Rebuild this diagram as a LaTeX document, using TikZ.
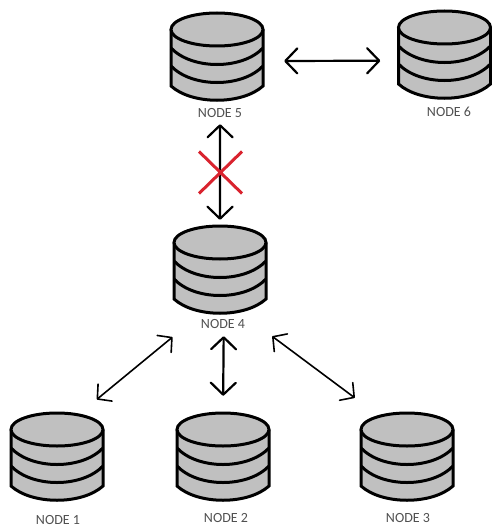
\documentclass[tikz,border=0pt]{standalone}
\usepackage{fontspec}
\setmainfont{Carlito}
\usetikzlibrary{arrows.meta,shapes.misc}
\definecolor{dbgray}{HTML}{C0C0C0}
\definecolor{labelgray}{HTML}{505050}
\definecolor{crossred}{HTML}{D9232E}
\tikzset{
  dbbox/.style={rectangle,minimum width=92pt,minimum height=88pt,inner sep=0pt},
  dblabel/.style={text=labelgray,font=\fontsize{14}{16}\selectfont,inner sep=0pt},
  link/.style={{Straight Barb[length=12pt,width=25pt,round]}-{Straight Barb[length=12pt,width=25pt,round]},line width=2.2pt},
  thinlink/.style={{Straight Barb[length=10pt,width=22pt,round]}-{Straight Barb[length=10pt,width=22pt,round]},line width=1.6pt},
  dbcyl/.pic={
    \draw[line width=3pt,fill=dbgray] (-46,-27.5) -- (-46,29)
      .. controls (-25,48) and (25,48) .. (46,29) -- (46,-27.5);
    \draw[line width=3pt,fill=dbgray] (0,-27.5) ellipse [x radius=46,y radius=16.5];
    \draw[line width=3pt] (-46,-9) .. controls (-25,13) and (25,13) .. (46,-9);
    \draw[line width=3pt] (-46,9) .. controls (-25,31) and (25,31) .. (46,9);
  }
}
\begin{document}
\begin{tikzpicture}[x=1pt,y=-1pt]
  \useasboundingbox (0,0) rectangle (492,527);
  \foreach \name/\x/\y/\lx/\ly/\txt in {n1/57/457/58/519.5/NODE 1,n2/223/457/226/518/NODE 2,
      n3/407/457/408/518/NODE 3,n4/220/270/223/324/NODE 4,n5/217/57/220/113/NODE 5,n6/444.5/55/449/112/NODE 6} {
    \pic at (\x,\y) {dbcyl};
    \node[dbbox] (\name) at (\x,\y) {};
    \node[dblabel] (l\name) at (\lx,\ly) {\txt};
  }
  % arrows stop short of the drums
  \draw[link,shorten <=21pt,shorten >=18pt] (n5.-5) -- (n6.187);
  \draw[link,shorten <=23pt,shorten >=6pt] (n5.274) -- (n4.north);
  \draw[thinlink,shorten <=36pt,shorten >=21pt] (n4.246) -- (n1.62);
  \draw[link,shorten <=22pt,shorten >=17pt] (n4.275) -- (n2.north);
  \draw[thinlink,shorten <=37pt,shorten >=25pt] (n4.297) -- (n3.126);
  \node[cross out,draw=crossred,line width=3pt,minimum width=40pt,minimum height=39pt,inner sep=0pt] (nocross) at (220.5,172.5) {};
\end{tikzpicture}
\end{document}
